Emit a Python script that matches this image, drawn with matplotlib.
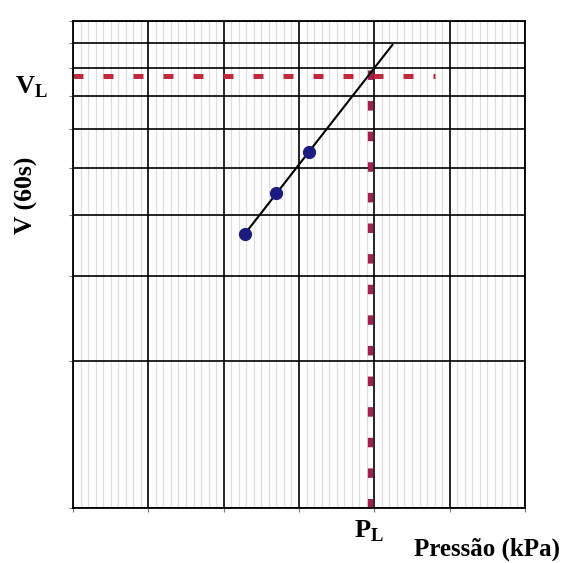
import numpy as np
import matplotlib.pyplot as plt
from matplotlib.ticker import MultipleLocator, FixedLocator, NullFormatter, NullLocator

plt.rcParams['font.family'] = ['Liberation Serif', 'DejaVu Serif']
plt.rcParams['mathtext.fontset'] = 'custom'
plt.rcParams['mathtext.bf'] = 'Liberation Serif:bold'
plt.rcParams['mathtext.rm'] = 'Liberation Serif:bold'

# pontos medidos (pressao em kPa, volume em 60 s)
pressao = [228, 270, 313]
volume = [3.65, 4.43, 5.38]

# limites da reta ajustada
reta_x = [228, 424]

# pressao limite e volume limite
P_L = 394
V_L = 7.71
linha_VL_fim = 480
linha_PL_topo = 8.3

fig = plt.figure(figsize=(5.63, 5.63), dpi=100)
ax = fig.add_axes([73/563, 55/563, 452/563, 487/563])

ax.set_yscale('log')
ax.set_xlim(0, 600)
ax.set_ylim(1, 10)

ax.xaxis.set_major_locator(MultipleLocator(100))
ax.xaxis.set_minor_locator(MultipleLocator(10))
ax.yaxis.set_major_locator(FixedLocator(list(range(1, 11))))
ax.yaxis.set_minor_locator(NullLocator())
ax.xaxis.set_major_formatter(NullFormatter())
ax.xaxis.set_minor_formatter(NullFormatter())
ax.yaxis.set_major_formatter(NullFormatter())

ax.grid(True, which='major', color='black', lw=1.2)
ax.grid(True, which='minor', axis='x', color='#dedede', lw=0.9)
ax.set_axisbelow(True)
ax.tick_params(which='major', length=3, width=0.8, color='#777777')
ax.tick_params(which='minor', length=0)
for s in ax.spines.values():
    s.set_linewidth(1.3)

# reta ajustada em escala semilog
coef = np.polyfit(pressao, np.log10(volume), 1)
rx = np.array(reta_x)
ax.plot(rx, 10**np.polyval(coef, rx), color='black', lw=1.5, zorder=3)

# linhas tracejadas de V_L e P_L
ax.plot([0, linha_VL_fim], [V_L, V_L], color='#c0283c', lw=3.6,
        dashes=(2, 4), solid_capstyle='butt', zorder=2)
ax.plot([P_L, P_L], [1, linha_PL_topo], color='#a02050', lw=3.8,
        dashes=(1.8, 4.0), solid_capstyle='butt', zorder=2)

ax.plot(pressao, volume, 'o', color='#1c1c80', ms=8.5, zorder=4)

fig.text(15/563, 1 - 93/563, r'$\mathbf{V}_{\mathbf{L}}$', fontsize=19,
         ha='left', va='baseline')
fig.text(26/563, 1 - 195/563, 'V (60s)', fontsize=18.5, fontweight='bold',
         rotation=90, ha='center', va='center')
fig.text(354/563, 1 - 537/563, r'$\mathbf{P}_{\mathbf{L}}$', fontsize=19,
         ha='left', va='baseline')
fig.text(560/563, 1 - 556/563, 'Pressão (kPa)', fontsize=18, fontweight='bold',
         ha='right', va='baseline')

plt.savefig('out.png', dpi=100)
